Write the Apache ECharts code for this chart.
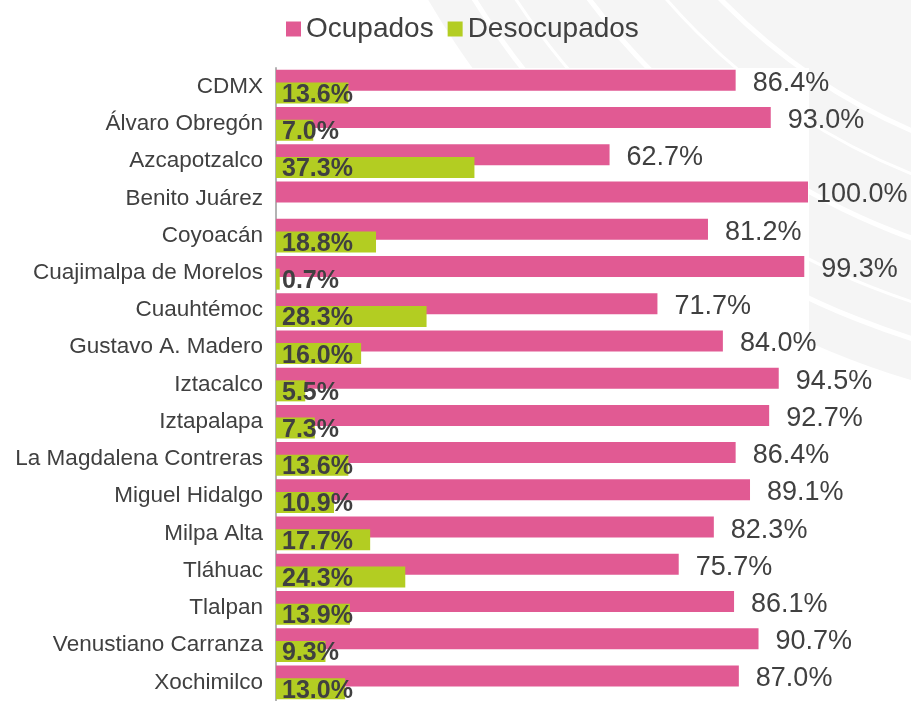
<!DOCTYPE html>
<html>
<head>
<meta charset="utf-8">
<script src="https://cdn.jsdelivr.net/npm/echarts@6/dist/echarts.min.js"></script>
<style>
  html, body { margin: 0; padding: 0; background: #ffffff; }
  #chart { width: 911px; height: 701px; }
</style>
</head>
<body>
<div id="chart"></div>
<script>
// alcaldías (de arriba hacia abajo)
var alcaldias = ['CDMX', 'Álvaro Obregón', 'Azcapotzalco', 'Benito Juárez', 'Coyoacán',
  'Cuajimalpa de Morelos', 'Cuauhtémoc', 'Gustavo A. Madero', 'Iztacalco', 'Iztapalapa',
  'La Magdalena Contreras', 'Miguel Hidalgo', 'Milpa Alta', 'Tláhuac', 'Tlalpan',
  'Venustiano Carranza', 'Xochimilco'];
var ocupados = [86.4, 93.0, 62.7, 100.0, 81.2, 99.3, 71.7, 84.0, 94.5, 92.7, 86.4, 89.1, 82.3, 75.7, 86.1, 90.7, 87.0];
var desocupados = [13.6, 7.0, 37.3, 0, 18.8, 0.7, 28.3, 16.0, 5.5, 7.3, 13.6, 10.9, 17.7, 24.3, 13.9, 9.3, 13.0];

var chartDom = document.getElementById('chart');
var myChart = echarts.init(chartDom);
var fuente = '"Liberation Sans", Arial, sans-serif';

// fondo: curvas grises arriba a la derecha
var fondo = [
  { type: 'circle', z: -10, z2: 1, shape: { cx: 1150, cy: -420, r: 835 }, style: { fill: '#f5f5f5' } }
];
[600, 640, 700, 760, 795].forEach(function (r, i) {
  fondo.push({
    type: 'arc', z: -10, z2: 2 + i,
    shape: { cx: 1150, cy: -420, r: r, startAngle: Math.PI / 2, endAngle: Math.PI, clockwise: true },
    style: { stroke: '#ffffff', lineWidth: i % 2 ? 3 : 5, fill: null }
  });
});
fondo.push({ type: 'rect', z: -10, z2: 20, shape: { x: 0, y: 68, width: 809, height: 640 }, style: { fill: '#ffffff' } });

var option = {
  backgroundColor: '#ffffff',
  animation: false,
  graphic: fondo,
  legend: {
    top: 10,
    left: 281,
    itemWidth: 15,
    itemHeight: 15,
    itemGap: 14,
    icon: 'rect',
    textStyle: { fontSize: 28, color: '#404040', fontFamily: fuente, lineHeight: 28 },
    data: ['Ocupados', 'Desocupados']
  },
  grid: { left: 276, top: 68, width: 532, height: 637.5, containLabel: false },
  xAxis: { type: 'value', min: 0, max: 100, show: false },
  yAxis: {
    type: 'category',
    inverse: true,
    data: alcaldias,
    axisTick: { show: false },
    axisLine: { lineStyle: { color: '#b3b3b3', width: 2 } },
    axisLabel: { fontSize: 22.5, color: '#404040', fontFamily: fuente, margin: 13, padding: [3, 0, 0, 0] }
  },
  series: [
    {
      name: 'Ocupados',
      type: 'bar',
      barWidth: 21,
      barGap: '-39.5%',
      itemStyle: { color: '#e15a93' },
      label: {
        show: true, position: 'right', distance: 17, offset: [0, 3],
        fontSize: 27, color: '#404040', fontFamily: fuente,
        formatter: function (p) { return p.value.toFixed(1) + '%'; }
      },
      // la etiqueta de 100% va más pegada a la barra
      data: ocupados.map(function (v) { return v >= 100 ? { value: v, label: { distance: 8 } } : v; })
    },
    {
      name: 'Desocupados',
      type: 'bar',
      barWidth: 21,
      itemStyle: { color: '#b3cd22' },
      label: {
        show: true, position: 'insideLeft', distance: 6, offset: [0, 2],
        fontSize: 25, fontWeight: 'bold', color: '#404040', fontFamily: fuente,
        formatter: function (p) { return p.value > 0 ? p.value.toFixed(1) + '%' : ''; }
      },
      data: desocupados
    }
  ]
};

option && myChart.setOption(option);
</script>
</body>
</html>
